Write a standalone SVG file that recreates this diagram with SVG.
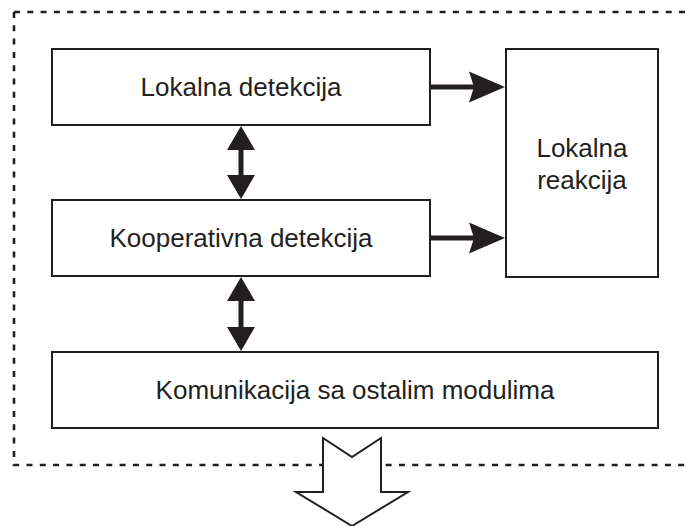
<svg xmlns="http://www.w3.org/2000/svg" width="687" height="526" viewBox="0 0 687 526">
<style>
.box{fill:#fff;stroke:#231f20;stroke-width:2}
.t{font-family:"Liberation Sans",Arial,sans-serif;font-size:26px;fill:#231f20;text-anchor:middle}
.dash{fill:none;stroke:#231f20;stroke-width:2.6;stroke-dasharray:6 7.3}
.ar{fill:#231f20;stroke:none}
</style>
<rect width="687" height="526" fill="#fff"/>
<path class="dash" d="M14,12 H687 M14,12 V465 H687"/>
<g id="lokalna-detekcija">
<rect class="box" x="52" y="49" width="378" height="76"/>
<text class="t" x="241" y="96">Lokalna detekcija</text>
</g>
<g id="kooperativna-detekcija">
<rect class="box" x="52" y="200" width="378" height="76"/>
<text class="t" x="241" y="247">Kooperativna detekcija</text>
</g>
<g id="lokalna-reakcija">
<rect class="box" x="506" y="49" width="152" height="228"/>
<text class="t" x="582" y="157">Lokalna</text>
<text class="t" x="582" y="189">reakcija</text>
</g>
<g id="komunikacija">
<rect class="box" x="52" y="352" width="606" height="76"/>
<text class="t" x="355" y="399">Komunikacija sa ostalim modulima</text>
</g>
<g id="connectors">
<rect class="ar" x="431" y="84.5" width="43" height="5"/>
<path class="ar" d="M505,87 L469,71.5 L474,87 L469,102.5 Z"/>
<rect class="ar" x="431" y="235.5" width="43" height="5"/>
<path class="ar" d="M505,238 L469,222.5 L474,238 L469,253.5 Z"/>
<rect class="ar" x="238.5" y="148" width="5" height="29"/>
<path class="ar" d="M241,126 L227,150 L255,150 Z M241,199 L227,175 L255,175 Z"/>
<rect class="ar" x="238.5" y="299" width="5" height="30"/>
<path class="ar" d="M241,277 L227,301 L255,301 Z M241,351 L227,327 L255,327 Z"/>
<path d="M323,438 L352,457 L381,438 L381,492 L408,492 L352,526 L296,492 L323,492 Z" fill="#fff" stroke="#231f20" stroke-width="2"/>
</g>
</svg>
